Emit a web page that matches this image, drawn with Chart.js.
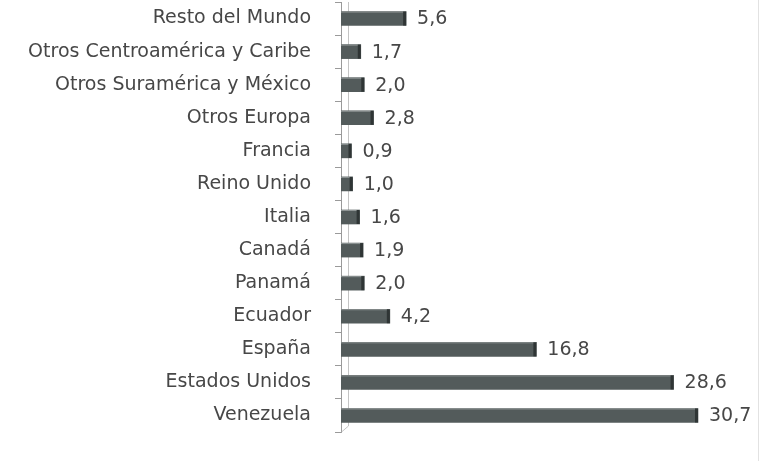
<!DOCTYPE html>
<html>
<head>
<meta charset="utf-8">
<script src="https://cdn.jsdelivr.net/npm/chart.js@4/dist/chart.umd.min.js"></script>
<style>
html,body{margin:0;padding:0;background:#ffffff;}
#wrap{width:768px;height:461px;position:relative;}
</style>
</head>
<body>
<div id="wrap"><canvas id="c" width="768" height="461"></canvas></div>
<script>
const categories = [
  "Resto del Mundo",
  "Otros Centroamérica y Caribe",
  "Otros Suramérica y México",
  "Otros Europa",
  "Francia",
  "Reino Unido",
  "Italia",
  "Canadá",
  "Panamá",
  "Ecuador",
  "España",
  "Estados Unidos",
  "Venezuela"
];
const values = [5.6, 1.7, 2.0, 2.8, 0.9, 1.0, 1.6, 1.9, 2.0, 4.2, 16.8, 28.6, 30.7];
const xMin = 0;
const xMax = 35;

const TEXT = '#474747';
const FONT = '"DejaVu Sans", sans-serif';

const decorPlugin = {
  id: 'decor',
  beforeDatasetsDraw(chart) {
    const ctx = chart.ctx;
    const a = chart.chartArea;
    ctx.save();
    ctx.strokeStyle = '#c4c4c4';
    ctx.lineWidth = 1;
    ctx.beginPath();
    ctx.moveTo(a.left + 7.5, a.top);
    ctx.lineTo(a.left + 7.5, a.bottom - 6);
    ctx.lineTo(a.left + 0.5, a.bottom);
    ctx.stroke();
    ctx.restore();
  },
  afterDatasetsDraw(chart) {
    const ctx = chart.ctx;
    const meta = chart.getDatasetMeta(0);
    ctx.save();
    meta.data.forEach((bar, i) => {
      const h = bar.height;
      const top = bar.y - h / 2;
      ctx.fillStyle = '#8e9494';
      ctx.fillRect(bar.base, top, bar.x - bar.base, 1);
      ctx.fillStyle = '#2f3535';
      ctx.fillRect(bar.x - 3, top, 3, h);
      ctx.fillStyle = TEXT;
      ctx.font = '19px ' + FONT;
      ctx.textAlign = 'left';
      ctx.textBaseline = 'middle';
      ctx.fillText(values[i].toFixed(1).replace('.', ','), bar.x + 11, bar.y + 1);
    });
    ctx.strokeStyle = '#e2e2e2';
    ctx.lineWidth = 1;
    ctx.beginPath();
    ctx.moveTo(758.5, 0);
    ctx.lineTo(758.5, chart.height);
    ctx.stroke();
    ctx.restore();
  }
};

new Chart(document.getElementById('c'), {
  type: 'bar',
  data: {
    labels: categories,
    datasets: [{
      data: values,
      backgroundColor: '#535b5b',
      borderWidth: 0,
      barThickness: 14
    }]
  },
  options: {
    indexAxis: 'y',
    responsive: false,
    animation: false,
    devicePixelRatio: 1,
    layout: { padding: { left: 0, right: 20, top: 2, bottom: 29 } },
    plugins: {
      legend: { display: false },
      tooltip: { enabled: false }
    },
    scales: {
      x: {
        display: false,
        min: xMin,
        max: xMax
      },
      y: {
        afterFit(scale) {
          scale.width = 341;
          scale.paddingTop = 0;
          scale.paddingBottom = 0;
        },
        border: { display: true, color: '#9a9a9a', width: 1 },
        grid: {
          display: true,
          drawOnChartArea: false,
          drawTicks: true,
          tickLength: 6,
          color: '#9a9a9a',
          offset: true
        },
        ticks: {
          color: TEXT,
          padding: 24,
          font: { family: FONT, size: 19 }
        }
      }
    }
  },
  plugins: [decorPlugin]
});
</script>
</body>
</html>
